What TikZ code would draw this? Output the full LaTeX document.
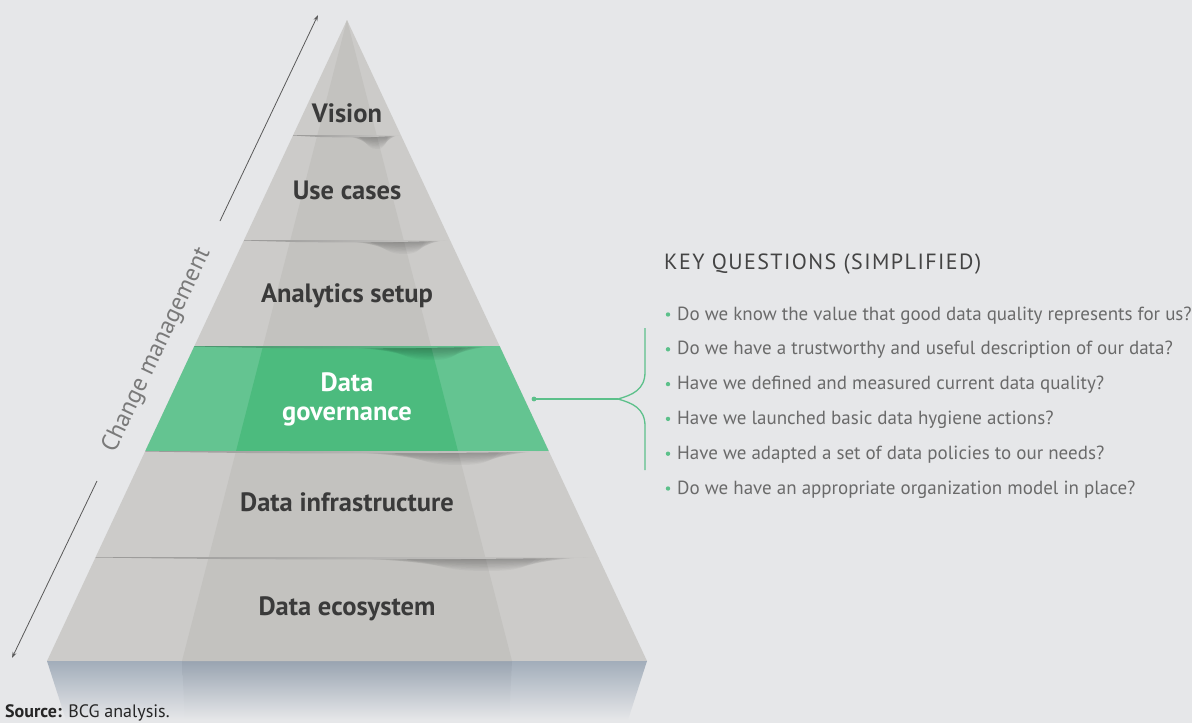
\documentclass[tikz,border=0pt]{standalone}
\usepackage{fontspec}
\setmainfont{PT Sans}
\usetikzlibrary{arrows.meta}
\definecolor{bg}{HTML}{E6E7E9}
\definecolor{gside}{HTML}{CCCBC9}
\definecolor{gmid}{HTML}{C3C2BF}
\definecolor{grside}{HTML}{64C491}
\definecolor{grmid}{HTML}{4CBB7E}
\definecolor{lblc}{HTML}{3A3A3A}
\definecolor{qtxt}{HTML}{6A6A6A}
\definecolor{ttl}{HTML}{444444}
\definecolor{cmgray}{HTML}{7A7A7A}
\definecolor{brgreen}{HTML}{5CC08A}
\definecolor{shblue}{HTML}{A2ADBA}
\definecolor{shbluemid}{HTML}{99A4B1}
\tikzset{
  lbl/.style={font=\bfseries\fontsize{26.5}{29}\selectfont, text=lblc, align=center, inner sep=0pt, anchor=base},
  qst/.style={font=\fontsize{19}{22}\selectfont, text=qtxt, inner sep=0pt, anchor=base west},
  bul/.style={fill=brgreen, draw=none},
  cmarrow/.style={draw=black!65, line width=0.8pt, -{Stealth[length=6pt,width=4pt]}},
  brace/.style={draw=brgreen, line width=1.3pt}
}
\begin{document}
\begin{tikzpicture}[x=1pt,y=-1pt]
\fill[bg] (0,0) rectangle (1192,723);
\useasboundingbox (0,0) rectangle (1192,723);

% reflection under the pyramid
\shade[top color=shblue, bottom color=bg] (47,661) -- (647,661) -- (628,720) -- (66,720) -- cycle;
\shade[top color=shbluemid, bottom color=bg] (182,661) -- (512,661) -- (509,720) -- (185,720) -- cycle;

% pyramid
\begin{scope}
  \clip (347,20) -- (647,661) -- (47,661) -- cycle;
  \fill[gside] (0,0) rectangle (700,661);
  \fill[gmid] (347,20) -- (512,661) -- (182,661) -- cycle;
  \begin{scope}
    \clip (0,346) rectangle (700,451);
    \fill[grside] (0,346) rectangle (700,451);
    \fill[grmid] (347,20) -- (512,661) -- (182,661) -- cycle;
  \end{scope}
  \foreach \b/\c in {135/gside, 240/gside, 346/grside, 451/gside, 557/gside} {
    \pgfmathsetmacro\xl{347-0.46802*(\b-20)}
    \pgfmathsetmacro\xr{347+0.46802*(\b-20)}
    \pgfmathsetmacro\w{\xr-\xl}
    % soft shadow wedge (stacked translucent layers)
    \foreach \k in {1,...,10} {
      \pgfmathsetmacro\h{1.4*\k}
      \pgfmathsetmacro\xa{\xl+(0.30+0.025*\k)*\w}
      \pgfmathsetmacro\xb{\xl+(1.0-0.012*\k)*\w}
      \pgfmathsetmacro\xp{\xl+0.78*\w}
      \fill[black, opacity=0.03] (\xa,\b) -- (\xb,\b)
        .. controls (\xb-0.02*\w,\b+0.6*\h) and (\xp+0.07*\w,\b+\h) .. (\xp,\b+\h)
        .. controls (\xp-0.12*\w,\b+\h) and (\xa+0.15*\w,\b+0.2*\h) .. (\xa,\b) -- cycle;
    }
    % thin dark edge line
    \shade[left color=\c!75!black, middle color=\c!40!black, right color=\c]
      (\xl,\b) -- (\xr,\b) -- (\xr,\b+0.5)
      .. controls (\xl+0.75*\w,\b+2.6) and (\xl+0.45*\w,\b+2.6) .. (\xl+0.25*\w,\b+2)
      .. controls (\xl+0.1*\w,\b+1.2) .. (\xl,\b+0.5) -- cycle;
  }
\end{scope}

% labels
\node[lbl] (vision) at (347,122) {Vision};
\node[lbl] (usecases) at (347,199) {Use cases};
\node[lbl] (analytics) at (347,302) {Analytics setup};
\node[lbl, text=white] (gov) at (347,420.7) {Data\\governance};
\node[lbl] (infra) at (347,511) {Data infrastructure};
\node[lbl] (eco) at (347,615) {Data ecosystem};

% change management axis
\coordinate (cmA) at (12,658);
\coordinate (cmB) at (318,15);
\coordinate (gapA) at (97,481);
\coordinate (gapB) at (220,221);
\draw[cmarrow] (gapB) -- (cmB);
\draw[cmarrow] (gapA) -- (cmA);
\node[rotate=64.6, font=\fontsize{24.5}{28}\selectfont, text=cmgray] (cm) at (157,350) {Change management};

% brace
\coordinate (dot) at (534,399);
\coordinate (tip) at (618,399);
\coordinate (btop) at (645,328);
\coordinate (bbot) at (645,470);
\fill[brgreen] (dot) circle (2.4);
\draw[brace] (dot) -- (tip);
\draw[brace] (btop) -- (645,372) .. controls (645,390) and (632,395) .. (tip)
  .. controls (632,403) and (645,408) .. (645,426) -- (bbot);

% key questions
\node[font=\fontsize{22}{26}\selectfont\addfontfeatures{LetterSpace=6.5}, text=ttl, inner sep=0pt, anchor=base west] (kq) at (664,269) {KEY QUESTIONS (SIMPLIFIED)};
\foreach \t [count=\i from 0] in {
  Do we know the value that good data quality represents for us?,
  Do we have a trustworthy and useful description of our data?,
  Have we defined and measured current data quality?,
  Have we launched basic data hygiene actions?,
  Have we adapted a set of data policies to our needs?,
  Do we have an appropriate organization model in place?} {
  \fill[brgreen] (668,320+34.8*\i-5.5) circle (2.2);
  \node[qst] (q\i) at (677,320+34.8*\i) {\t};
}

% source
\node[font=\fontsize{18}{21}\selectfont, text=black!85, inner sep=0pt, anchor=base west] (src) at (5,717) {\textbf{Source:} BCG analysis.};
\end{tikzpicture}
\end{document}
